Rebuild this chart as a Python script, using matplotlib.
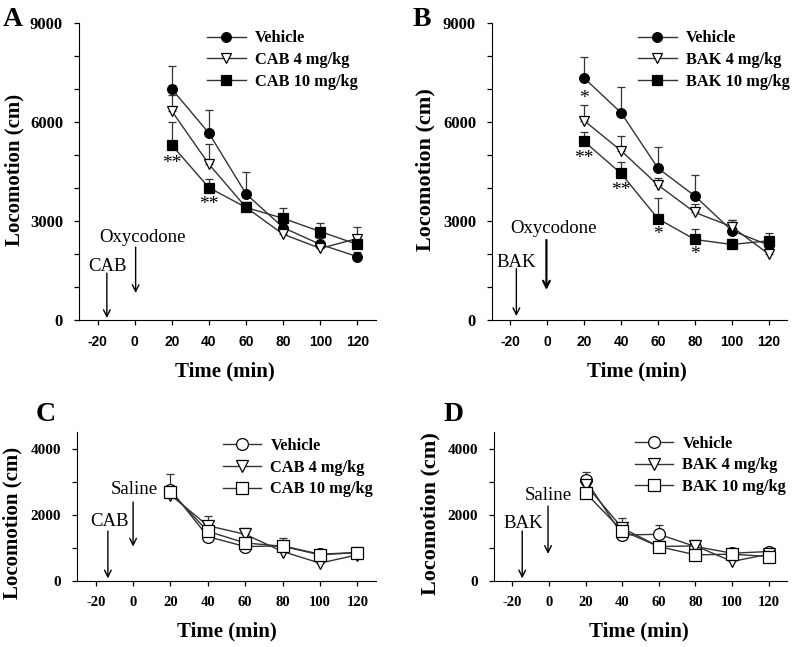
import numpy as np
import matplotlib
matplotlib.use("Agg")
import matplotlib.pyplot as plt
from matplotlib.ticker import MultipleLocator

plt.rcParams['font.family'] = ['Liberation Serif', 'DejaVu Serif']
plt.rcParams['axes.unicode_minus'] = False

# time points (min)
time = [20, 40, 60, 80, 100, 120]

# Panel A: oxycodone + CAB
a_labels = ["Vehicle", "CAB 4 mg/kg", "CAB 10 mg/kg"]
a_veh = [7000, 5660, 3820, 2800, 2290, 1920]
a_veh_err = [700, 690, 680, 250, 200, 150]
a_cab4 = [6330, 4720, 3410, 2600, 2170, 2470]
a_cab4_err = [500, 610, 150, 200, 200, 360]
a_cab10 = [5300, 4010, 3410, 3080, 2680, 2290]
a_cab10_err = [700, 250, 150, 300, 250, 150]

# Panel B: oxycodone + BAK
b_labels = ["Vehicle", "BAK 4 mg/kg", "BAK 10 mg/kg"]
b_veh = [7330, 6280, 4600, 3760, 2710, 2270]
b_veh_err = [650, 790, 650, 630, 320, 200]
b_bak4 = [6040, 5130, 4090, 3260, 2830, 2000]
b_bak4_err = [480, 450, 200, 260, 200, 150]
b_bak10 = [5410, 4440, 3070, 2440, 2290, 2400]
b_bak10_err = [300, 350, 630, 330, 150, 230]

# Panel C: saline + CAB
c_veh = [2760, 1340, 1040, 1060, 810, 860]
c_veh_err = [460, 100, 80, 100, 80, 80]
c_cab4 = [2600, 1670, 1410, 890, 540, 790]
c_cab4_err = [200, 300, 180, 120, 150, 150]
c_cab10 = [2690, 1500, 1150, 1050, 790, 860]
c_cab10_err = [150, 150, 120, 250, 150, 180]

# Panel D: saline + BAK
d_veh = [3060, 1390, 1410, 1040, 840, 890]
d_veh_err = [220, 100, 290, 100, 80, 80]
d_bak4 = [2910, 1600, 1040, 1060, 590, 810]
d_bak4_err = [150, 300, 120, 180, 100, 100]
d_bak10 = [2660, 1520, 1040, 790, 810, 740]
d_bak10_err = [150, 150, 100, 100, 100, 100]

# significance marks (x, y, text)
a_stars = [(20, 4750, "**"), (40, 3500, "**")]
b_stars = [(20, 6700, "*"), (20, 4900, "**"), (40, 3930, "**"),
           (60, 2600, "*"), (80, 2000, "*")]

xticks = [-20, 0, 20, 40, 60, 80, 100, 120]


def draw_series(ax, means, errs, marker, face, ms):
    zeros = np.zeros(len(errs))
    ax.errorbar(time, means, yerr=[zeros, errs], fmt='none', ecolor='#333333',
                elinewidth=0.9, capsize=3, capthick=0.9, zorder=2)
    line, = ax.plot(time, means, color='#333333', lw=1.0, marker=marker,
                    markersize=ms, markerfacecolor=face, markeredgecolor='black',
                    markeredgewidth=0.9, zorder=3)
    return line


def style_axes(ax, ymax, major, sans_x, xtick_size, ytick_size, ylab_size):
    ax.set_xlim(-30, 130)
    ax.set_ylim(0, ymax)
    ax.spines['top'].set_visible(False)
    ax.spines['right'].set_visible(False)
    xfam = 'Liberation Sans' if sans_x else 'Liberation Serif'
    ax.set_xticks(xticks, [str(t) for t in xticks], fontsize=xtick_size,
                  fontweight='bold', family=xfam)
    yt = list(range(0, ymax + 1, major))
    ax.set_yticks(yt, [str(t) for t in yt], fontsize=ytick_size, fontweight='bold')
    ax.yaxis.set_minor_locator(MultipleLocator(1000))
    ax.tick_params(axis='both', which='both', direction='out', length=3.5, width=0.9)
    ax.tick_params(axis='y', pad=8)
    ax.tick_params(axis='x', pad=7)
    ax.set_xlabel("Time (min)", fontsize=15, fontweight='bold')
    ax.set_ylabel("Locomotion (cm)", fontsize=ylab_size, fontweight='bold')


def arrow(ax, x, y0, y1, lw=1.0):
    ax.annotate('', xy=(x, y1), xytext=(x, y0),
                arrowprops=dict(arrowstyle='->', lw=lw, color='black',
                                shrinkA=0, shrinkB=0, mutation_scale=12))


fig = plt.figure(figsize=(7.95, 6.47), dpi=100)
axA = fig.add_axes([0.0994, 0.5054, 0.3736, 0.4590])
axB = fig.add_axes([0.6189, 0.5054, 0.3711, 0.4590])
axC = fig.add_axes([0.0969, 0.1020, 0.3761, 0.2303])
axD = fig.add_axes([0.6214, 0.1020, 0.3686, 0.2303])

leg_kw = dict(frameon=False, loc='upper left', handlelength=2.35, handletextpad=0.55,
              labelspacing=0.35, borderaxespad=0, borderpad=0,
              prop={'weight': 'bold', 'size': 11.8})
txt = 13.5

# A
h = [draw_series(axA, a_veh, a_veh_err, 'o', 'black', 7),
     draw_series(axA, a_cab4, a_cab4_err, 'v', 'white', 7.5),
     draw_series(axA, a_cab10, a_cab10_err, 's', 'black', 6.5)]
style_axes(axA, 9000, 3000, True, 10, 12, 15)
axA.legend(h, a_labels, bbox_to_anchor=(0.431, 0.975), **leg_kw)
for x, y, s in a_stars:
    axA.text(x, y, s, ha='center', va='center', fontsize=14)
arrow(axA, -15, 1420, 60)
arrow(axA, 0.5, 2210, 820)
axA.text(-14.5, 1480, "CAB", ha='center', va='baseline', fontsize=txt)
axA.text(4, 2360, "Oxycodone", ha='center', va='baseline', fontsize=txt)

# B
h = [draw_series(axB, b_veh, b_veh_err, 'o', 'black', 7),
     draw_series(axB, b_bak4, b_bak4_err, 'v', 'white', 7.5),
     draw_series(axB, b_bak10, b_bak10_err, 's', 'black', 6.5)]
style_axes(axB, 9000, 3000, True, 10, 12, 16)
axB.legend(h, b_labels, bbox_to_anchor=(0.495, 0.975), **leg_kw)
for x, y, s in b_stars:
    axB.text(x, y, s, ha='center', va='center', fontsize=14)
arrow(axB, -16.8, 1560, 120)
arrow(axB, -0.5, 2424, 910, lw=1.6)
axB.text(-17, 1620, "BAK", ha='center', va='baseline', fontsize=txt)
axB.text(3.2, 2636, "Oxycodone", ha='center', va='baseline', fontsize=txt)

# C
h = [draw_series(axC, c_veh, c_veh_err, 'o', 'white', 8.5),
     draw_series(axC, c_cab4, c_cab4_err, 'v', 'white', 8.5),
     draw_series(axC, c_cab10, c_cab10_err, 's', 'white', 8)]
style_axes(axC, 4500, 2000, False, 10.5, 11, 15)
axC.legend(h, a_labels, bbox_to_anchor=(0.488, 0.96), **leg_kw)
arrow(axC, -13.5, 1510, 80)
arrow(axC, 0, 2386, 1040)
axC.text(-12.7, 1661, "CAB", ha='center', va='baseline', fontsize=txt)
axC.text(0.8, 2627, "Saline", ha='center', va='baseline', fontsize=txt)

# D
h = [draw_series(axD, d_veh, d_veh_err, 'o', 'white', 8.5),
     draw_series(axD, d_bak4, d_bak4_err, 'v', 'white', 8.5),
     draw_series(axD, d_bak10, d_bak10_err, 's', 'white', 8)]
style_axes(axD, 4500, 2000, False, 10.5, 11, 16)
axD.legend(h, b_labels, bbox_to_anchor=(0.481, 0.975), **leg_kw)
arrow(axD, -14.6, 1510, 80)
arrow(axD, -0.5, 2265, 820)
axD.text(-14, 1600, "BAK", ha='center', va='baseline', fontsize=txt)
axD.text(-0.5, 2446, "Saline", ha='center', va='baseline', fontsize=txt)

# axis label positions
axA.yaxis.set_label_coords(-0.182, 0.505)
axB.yaxis.set_label_coords(-0.193, 0.505)
axC.yaxis.set_label_coords(-0.184, 0.39)
axD.yaxis.set_label_coords(-0.184, 0.45)
axA.xaxis.set_label_coords(0.49, -0.14)
axB.xaxis.set_label_coords(0.49, -0.14)
axC.xaxis.set_label_coords(0.50, -0.27)
axD.xaxis.set_label_coords(0.495, -0.27)

# panel letters
for x, y, s in [(3, 7, "A"), (413, 7, "B"), (36, 402, "C"), (444, 402, "D")]:
    fig.text(x / 795, 1 - y / 647, s, ha='left', va='top', fontsize=20, fontweight='bold')

fig.savefig("out.png", dpi=100)
